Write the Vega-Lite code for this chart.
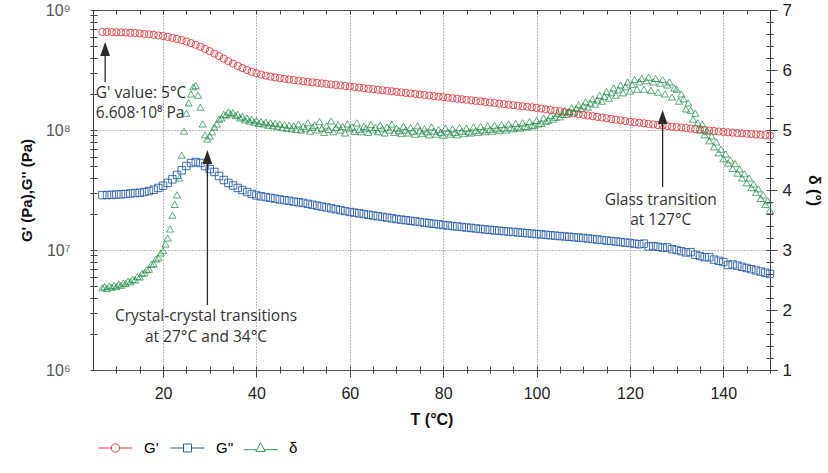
{
"$schema": "https://vega.github.io/schema/vega-lite/v6.json",
"width": 677, "height": 360,
"autosize": {"type": "none"},
"padding": {"left": 93, "top": 10, "right": 58, "bottom": 103},
"background": "white",
"config": {"view": {"stroke": "#444", "strokeWidth": 1}, "font": "Liberation Sans", "axis": {"domainColor": "#444", "tickColor": "#444", "labelFont": "Liberation Sans", "titleFont": "Liberation Sans"}},
"datasets": {
"g": [
{"T":7,"a":6.56e8,"b":2.87e7},{"T":8,"a":6.56e8,"b":2.87e7},{"T":9,"a":6.546e8,"b":2.88e7},{"T":10,"a":6.531e8,"b":2.90e7},{"T":11,"a":6.516e8,"b":2.91e7},{"T":12,"a":6.486e8,"b":2.93e7},{"T":13,"a":6.457e8,"b":2.96e7},{"T":14,"a":6.427e8,"b":2.98e7},{"T":15,"a":6.383e8,"b":3.0e7},{"T":16,"a":6.31e8,"b":3.04e7},{"T":17,"a":6.266e8,"b":3.10e7},{"T":18,"a":6.209e8,"b":3.18e7},{"T":19,"a":6.138e8,"b":3.29e7},{"T":20,"a":6.067e8,"b":3.43e7},
{"T":21,"a":5.97e8,"b":3.62e7},{"T":22,"a":5.861e8,"b":3.88e7},{"T":23,"a":5.741e8,"b":4.22e7},{"T":24,"a":5.61e8,"b":4.62e7},{"T":25,"a":5.458e8,"b":5.01e7},{"T":26,"a":5.297e8,"b":5.31e7},{"T":27,"a":5.129e8,"b":5.41e7},{"T":28,"a":4.943e8,"b":5.31e7},{"T":29,"a":4.742e8,"b":5.01e7},{"T":30,"a":4.539e8,"b":4.73e7},
{"T":31,"a":4.335e8,"b":4.47e7},{"T":32,"a":4.13e8,"b":4.14e7},{"T":33,"a":3.936e8,"b":3.83e7},{"T":34,"a":3.75e8,"b":3.62e7},{"T":35,"a":3.573e8,"b":3.45e7},{"T":36,"a":3.42e8,"b":3.29e7},{"T":37,"a":3.281e8,"b":3.16e7},{"T":38,"a":3.162e8,"b":3.04e7},{"T":39,"a":3.062e8,"b":2.93e7},{"T":40,"a":2.972e8,"b":2.85e7},
{"T":41,"a":2.897e8,"b":2.80e7},{"T":42,"a":2.838e8,"b":2.76e7},{"T":43,"a":2.786e8,"b":2.72e7},{"T":44,"a":2.742e8,"b":2.68e7},{"T":45,"a":2.704e8,"b":2.64e7},{"T":46,"a":2.667e8,"b":2.60e7},{"T":47,"a":2.636e8,"b":2.57e7},{"T":48,"a":2.606e8,"b":2.53e7},{"T":49,"a":2.576e8,"b":2.50e7},{"T":50,"a":2.547e8,"b":2.47e7},
{"T":51,"a":2.521e8,"b":2.424e7},{"T":52,"a":2.496e8,"b":2.383e7},{"T":53,"a":2.471e8,"b":2.342e7},{"T":54,"a":2.446e8,"b":2.302e7},{"T":55,"a":2.421e8,"b":2.263e7},{"T":56,"a":2.397e8,"b":2.224e7},{"T":57,"a":2.373e8,"b":2.186e7},{"T":58,"a":2.349e8,"b":2.149e7},{"T":59,"a":2.325e8,"b":2.112e7},{"T":60,"a":2.302e8,"b":2.076e7},
{"T":61,"a":2.279e8,"b":2.048e7},{"T":62,"a":2.256e8,"b":2.020e7},{"T":63,"a":2.233e8,"b":1.993e7},{"T":64,"a":2.210e8,"b":1.966e7},{"T":65,"a":2.188e8,"b":1.939e7},{"T":66,"a":2.166e8,"b":1.913e7},{"T":67,"a":2.144e8,"b":1.887e7},{"T":68,"a":2.123e8,"b":1.862e7},{"T":69,"a":2.101e8,"b":1.837e7},{"T":70,"a":2.080e8,"b":1.812e7},
{"T":71,"a":2.059e8,"b":1.791e7},{"T":72,"a":2.038e8,"b":1.771e7},{"T":73,"a":2.018e8,"b":1.751e7},{"T":74,"a":1.998e8,"b":1.731e7},{"T":75,"a":1.977e8,"b":1.711e7},{"T":76,"a":1.957e8,"b":1.691e7},{"T":77,"a":1.938e8,"b":1.672e7},{"T":78,"a":1.918e8,"b":1.653e7},{"T":79,"a":1.899e8,"b":1.634e7},{"T":80,"a":1.880e8,"b":1.615e7},
{"T":81,"a":1.861e8,"b":1.600e7},{"T":82,"a":1.842e8,"b":1.585e7},{"T":83,"a":1.823e8,"b":1.570e7},{"T":84,"a":1.804e8,"b":1.555e7},{"T":85,"a":1.785e8,"b":1.540e7},{"T":86,"a":1.767e8,"b":1.526e7},{"T":87,"a":1.749e8,"b":1.512e7},{"T":88,"a":1.731e8,"b":1.497e7},{"T":89,"a":1.713e8,"b":1.483e7},{"T":90,"a":1.695e8,"b":1.469e7},
{"T":91,"a":1.678e8,"b":1.458e7},{"T":92,"a":1.660e8,"b":1.446e7},{"T":93,"a":1.643e8,"b":1.435e7},{"T":94,"a":1.626e8,"b":1.424e7},{"T":95,"a":1.609e8,"b":1.413e7},{"T":96,"a":1.593e8,"b":1.402e7},{"T":97,"a":1.576e8,"b":1.391e7},{"T":98,"a":1.560e8,"b":1.380e7},{"T":99,"a":1.544e8,"b":1.369e7},{"T":100,"a":1.528e8,"b":1.358e7},
{"T":101,"a":1.508e8,"b":1.348e7},{"T":102,"a":1.488e8,"b":1.338e7},{"T":103,"a":1.468e8,"b":1.327e7},{"T":104,"a":1.449e8,"b":1.317e7},{"T":105,"a":1.430e8,"b":1.307e7},{"T":106,"a":1.411e8,"b":1.297e7},{"T":107,"a":1.393e8,"b":1.288e7},{"T":108,"a":1.374e8,"b":1.278e7},{"T":109,"a":1.356e8,"b":1.268e7},{"T":110,"a":1.338e8,"b":1.259e7},
{"T":111,"a":1.321e8,"b":1.247e7},{"T":112,"a":1.303e8,"b":1.235e7},{"T":113,"a":1.286e8,"b":1.223e7},{"T":114,"a":1.269e8,"b":1.211e7},{"T":115,"a":1.252e8,"b":1.199e7},{"T":116,"a":1.236e8,"b":1.188e7},{"T":117,"a":1.220e8,"b":1.176e7},{"T":118,"a":1.204e8,"b":1.165e7},{"T":119,"a":1.188e8,"b":1.154e7},{"T":120,"a":1.172e8,"b":1.143e7},
{"T":121,"a":1.160e8,"b":1.130e7},{"T":122,"a":1.148e8,"b":1.117e7},{"T":123,"a":1.136e8,"b":1.13e7},{"T":124,"a":1.124e8,"b":1.07e7},{"T":125,"a":1.113e8,"b":1.079e7},{"T":126,"a":1.101e8,"b":1.063e7},{"T":127,"a":1.090e8,"b":1.047e7},{"T":128,"a":1.079e8,"b":1.05e7},{"T":129,"a":1.068e8,"b":1.015e7},{"T":130,"a":1.057e8,"b":1.0e7},
{"T":131,"a":1.047e8,"b":9.77e6},{"T":132,"a":1.037e8,"b":9.55e6},{"T":133,"a":1.028e8,"b":9.6e6},{"T":134,"a":1.018e8,"b":9.12e6},{"T":135,"a":1.009e8,"b":8.91e6},{"T":136,"a":9.998e7,"b":8.71e6},{"T":137,"a":9.906e7,"b":8.7e6},{"T":138,"a":9.815e7,"b":8.32e6},{"T":139,"a":9.725e7,"b":8.13e6},{"T":140,"a":9.636e7,"b":7.94e6},
{"T":141,"a":9.570e7,"b":7.5e6},{"T":142,"a":9.504e7,"b":7.58e6},{"T":143,"a":9.439e7,"b":7.41e6},{"T":144,"a":9.374e7,"b":7.24e6},{"T":145,"a":9.309e7,"b":7.08e6},{"T":146,"a":9.245e7,"b":6.92e6},{"T":147,"a":9.182e7,"b":6.76e6},{"T":148,"a":9.119e7,"b":6.61e6},{"T":149,"a":9.056e7,"b":6.46e6},{"T":150,"a":8.994e7,"b":6.31e6}
],
"d": [
{"T":7,"d":2.37},{"T":7.5,"d":2.39},{"T":8,"d":2.36},{"T":8.5,"d":2.40},{"T":9,"d":2.38},{"T":9.5,"d":2.41},{"T":10,"d":2.39},{"T":10.5,"d":2.43},{"T":11,"d":2.41},{"T":11.5,"d":2.45},{"T":12,"d":2.44},{"T":12.5,"d":2.48},{"T":13,"d":2.47},{"T":13.5,"d":2.51},{"T":14,"d":2.50},{"T":14.5,"d":2.56},{"T":15,"d":2.55},{"T":15.5,"d":2.61},{"T":16,"d":2.62},{"T":16.5,"d":2.67},{"T":17,"d":2.68},{"T":17.5,"d":2.76},{"T":18,"d":2.77},{"T":18.5,"d":2.85},{"T":19,"d":2.87},{"T":19.5,"d":2.95},{"T":20,"d":2.99},{"T":20.5,"d":3.1},
{"T":21,"d":3.2},{"T":21.5,"d":3.35},{"T":22,"d":3.58},{"T":22.5,"d":3.76},{"T":23,"d":3.92},{"T":23.5,"d":4.2},{"T":24,"d":4.58},{"T":24.5,"d":4.98},{"T":25,"d":5.28},{"T":25.5,"d":5.45},{"T":26,"d":5.6},{"T":26.5,"d":5.72},{"T":27,"d":5.74},{"T":27.5,"d":5.58},{"T":28,"d":5.38},{"T":28.5,"d":5.1},{"T":29,"d":4.92},{"T":29.5,"d":4.85},{"T":30,"d":4.9},{"T":30.5,"d":4.97},
{"T":31,"d":5.05},{"T":31.5,"d":5.1},{"T":32,"d":5.18},{"T":32.5,"d":5.2},{"T":33,"d":5.26},{"T":33.5,"d":5.25},{"T":34,"d":5.3},{"T":34.5,"d":5.27},{"T":35,"d":5.29},{"T":35.5,"d":5.24},{"T":36,"d":5.26},{"T":36.5,"d":5.2},{"T":37,"d":5.22},{"T":37.5,"d":5.17},{"T":38,"d":5.2},{"T":38.5,"d":5.15},{"T":39,"d":5.18},{"T":39.5,"d":5.13},{"T":40,"d":5.16},{"T":40.5,"d":5.11},
{"T":41,"d":5.14},{"T":41.5,"d":5.1},{"T":42,"d":5.13},{"T":42.5,"d":5.08},{"T":43,"d":5.12},{"T":43.5,"d":5.07},{"T":44,"d":5.11},{"T":44.5,"d":5.06},{"T":45,"d":5.1},{"T":45.5,"d":5.04},{"T":46,"d":5.09},{"T":46.5,"d":5.03},{"T":47,"d":5.08},{"T":47.5,"d":5.02},{"T":48,"d":5.07},{"T":48.5,"d":5.01},{"T":49,"d":5.1},{"T":49.5,"d":5.0},{"T":50,"d":5.06},{"T":50.5,"d":5.02},
{"T":51,"d":5.12},{"T":51.5,"d":4.98},{"T":52,"d":5.05},{"T":52.5,"d":5.08},{"T":53,"d":5.0},{"T":53.5,"d":5.14},{"T":54,"d":5.03},{"T":54.5,"d":4.96},{"T":55,"d":5.07},{"T":55.5,"d":5.01},{"T":56,"d":5.15},{"T":56.5,"d":4.97},{"T":57,"d":5.04},{"T":57.5,"d":5.09},{"T":58,"d":5.0},{"T":58.5,"d":5.06},{"T":59,"d":4.95},{"T":59.5,"d":5.1},{"T":60,"d":5.02},{"T":60.5,"d":5.05},
{"T":61,"d":4.98},{"T":61.5,"d":5.12},{"T":62,"d":5.01},{"T":62.5,"d":4.97},{"T":63,"d":5.06},{"T":63.5,"d":5.03},{"T":64,"d":4.96},{"T":64.5,"d":5.09},{"T":65,"d":5.0},{"T":65.5,"d":5.04},{"T":66,"d":4.97},{"T":66.5,"d":5.08},{"T":67,"d":5.02},{"T":67.5,"d":4.95},{"T":68,"d":5.05},{"T":68.5,"d":5.0},{"T":69,"d":5.1},{"T":69.5,"d":4.96},{"T":70,"d":5.03},{"T":70.5,"d":4.99},
{"T":71,"d":4.94},{"T":71.5,"d":5.06},{"T":72,"d":5.0},{"T":72.5,"d":4.95},{"T":73,"d":5.04},{"T":73.5,"d":4.98},{"T":74,"d":4.93},{"T":74.5,"d":5.07},{"T":75,"d":4.99},{"T":75.5,"d":4.94},{"T":76,"d":5.02},{"T":76.5,"d":4.97},{"T":77,"d":4.92},{"T":77.5,"d":5.05},{"T":78,"d":4.98},{"T":78.5,"d":4.93},{"T":79,"d":5.01},{"T":79.5,"d":4.96},{"T":80,"d":4.91},{"T":80.5,"d":5.03},
{"T":81,"d":4.97},{"T":81.5,"d":4.93},{"T":82,"d":5.02},{"T":82.5,"d":4.96},{"T":83,"d":4.92},{"T":83.5,"d":5.04},{"T":84,"d":4.98},{"T":84.5,"d":4.94},{"T":85,"d":5.03},{"T":85.5,"d":4.97},{"T":86,"d":4.95},{"T":86.5,"d":5.05},{"T":87,"d":4.99},{"T":87.5,"d":4.96},{"T":88,"d":5.06},{"T":88.5,"d":5.0},{"T":89,"d":4.97},{"T":89.5,"d":5.07},{"T":90,"d":5.01},{"T":90.5,"d":4.98},
{"T":91,"d":5.08},{"T":91.5,"d":5.02},{"T":92,"d":4.99},{"T":92.5,"d":5.09},{"T":93,"d":5.03},{"T":93.5,"d":5.0},{"T":94,"d":5.1},{"T":94.5,"d":5.04},{"T":95,"d":5.02},{"T":95.5,"d":5.11},{"T":96,"d":5.05},{"T":96.5,"d":5.03},{"T":97,"d":5.12},{"T":97.5,"d":5.06},{"T":98,"d":5.05},{"T":98.5,"d":5.14},{"T":99,"d":5.08},{"T":99.5,"d":5.07},{"T":100,"d":5.16},{"T":100.5,"d":5.1},
{"T":101,"d":5.11},{"T":101.5,"d":5.2},{"T":102,"d":5.14},{"T":102.5,"d":5.16},{"T":103,"d":5.24},{"T":103.5,"d":5.18},{"T":104,"d":5.21},{"T":104.5,"d":5.28},{"T":105,"d":5.22},{"T":105.5,"d":5.26},{"T":106,"d":5.32},{"T":106.5,"d":5.26},{"T":107,"d":5.31},{"T":107.5,"d":5.37},{"T":108,"d":5.3},{"T":108.5,"d":5.36},{"T":109,"d":5.42},{"T":109.5,"d":5.35},{"T":110,"d":5.4},{"T":110.5,"d":5.47},
{"T":111,"d":5.38},{"T":111.5,"d":5.45},{"T":112,"d":5.52},{"T":112.5,"d":5.43},{"T":113,"d":5.5},{"T":113.5,"d":5.58},{"T":114,"d":5.48},{"T":114.5,"d":5.56},{"T":115,"d":5.64},{"T":115.5,"d":5.53},{"T":116,"d":5.62},{"T":116.5,"d":5.7},{"T":117,"d":5.58},{"T":117.5,"d":5.67},{"T":118,"d":5.75},{"T":118.5,"d":5.62},{"T":119,"d":5.72},{"T":119.5,"d":5.8},{"T":120,"d":5.65},{"T":120.5,"d":5.76},
{"T":121,"d":5.84},{"T":121.5,"d":5.68},{"T":122,"d":5.8},{"T":122.5,"d":5.86},{"T":123,"d":5.68},{"T":123.5,"d":5.82},{"T":124,"d":5.88},{"T":124.5,"d":5.66},{"T":125,"d":5.8},{"T":125.5,"d":5.86},{"T":126,"d":5.63},{"T":126.5,"d":5.78},{"T":127,"d":5.84},{"T":127.5,"d":5.6},{"T":128,"d":5.75},{"T":128.5,"d":5.8},{"T":129,"d":5.55},{"T":129.5,"d":5.7},{"T":130,"d":5.68},{"T":130.5,"d":5.48},
{"T":131,"d":5.6},{"T":131.5,"d":5.52},{"T":132,"d":5.35},{"T":132.5,"d":5.45},{"T":133,"d":5.33},{"T":133.5,"d":5.18},{"T":134,"d":5.28},{"T":134.5,"d":5.12},{"T":135,"d":5.0},{"T":135.5,"d":5.1},{"T":136,"d":4.92},{"T":136.5,"d":4.98},{"T":137,"d":4.82},{"T":137.5,"d":4.9},{"T":138,"d":4.72},{"T":138.5,"d":4.8},{"T":139,"d":4.62},{"T":139.5,"d":4.68},{"T":140,"d":4.52},{"T":140.5,"d":4.6},
{"T":141,"d":4.45},{"T":141.5,"d":4.5},{"T":142,"d":4.36},{"T":142.5,"d":4.44},{"T":143,"d":4.28},{"T":143.5,"d":4.35},{"T":144,"d":4.2},{"T":144.5,"d":4.27},{"T":145,"d":4.12},{"T":145.5,"d":4.2},{"T":146,"d":4.04},{"T":146.5,"d":4.1},{"T":147,"d":3.96},{"T":147.5,"d":4.02},{"T":148,"d":3.86},{"T":148.5,"d":3.92},{"T":149,"d":3.76},{"T":149.5,"d":3.82},{"T":150,"d":3.66}
],
"arrows": [
{"T":7.6,"top":4.22e8,"bot":2.51e8,"head":4.73e8},
{"T":29.5,"top":5.31e7,"bot":3.48e6,"head":5.96e7},
{"T":127,"top":1.143e8,"bot":3.35e7,"head":1.283e8}
],
"notesL": [
{"T":5.6,"y":2.03e8,"text":"G' value: 5°C"},
{"T":5.6,"y":1.386e8,"text":"6.608·10⁸ Pa"}
],
"notesC": [
{"T":29.2,"y":2.818e6,"text":"Crystal-crystal transitions"},
{"T":29.2,"y":1.9e6,"text":"at 27°C and 34°C"},
{"T":126.6,"y":2.61e7,"text":"Glass transition"},
{"T":126.6,"y":1.778e7,"text":"at 127°C"}
]
},
"layer": [
{
"encoding": {
"x": {"field": "T", "type": "quantitative", "scale": {"domain": [5, 150], "nice": false, "zero": false},
"axis": {"values": [10,15,20,25,30,35,40,45,50,55,60,65,70,75,80,85,90,95,100,105,110,115,120,125,130,135,140,145,150],
"labelExpr": "datum.value % 20 == 0 && datum.value < 150 ? datum.label : ''",
"labelFontSize": 16, "labelColor": "#222", "labelPadding": 8, "labelFlush": false, "labelOverlap": false,
"offset": -4, "domain": false,
"tickSize": {"condition": {"test": "datum.value % 20 == 0", "value": 11}, "value": 7},
"grid": true, "gridDash": [1, 2], "gridColor": "#777",
"gridOpacity": {"condition": {"test": "datum.value % 20 == 0 && datum.value < 150", "value": 1}, "value": 0},
"title": "T (°C)", "titleFontSize": 16, "titleFontWeight": "bold", "titleColor": "#111", "titlePadding": 10}}
},
"layer": [
{
"data": {"name": "g"},
"mark": {"type": "point", "shape": "square", "filled": false, "size": 55, "strokeWidth": 0.9, "opacity": 1},
"encoding": {
"y": {"field": "b", "type": "quantitative", "scale": {"type": "log", "domain": [1e6, 1e9], "nice": false},
"axis": {"values": [1e6,2e6,3e6,4e6,5e6,6e6,7e6,8e6,9e6,1e7,2e7,3e7,4e7,5e7,6e7,7e7,8e7,9e7,1e8,2e8,3e8,4e8,5e8,6e8,7e8,8e8,9e8,1e9],
"labelExpr": "abs(log(datum.value)/LN10 - round(log(datum.value)/LN10)) < 0.01 ? '10' + ['⁶','⁷','⁸','⁹'][round(log(datum.value)/LN10) - 6] : ''",
"labelFontSize": 16, "labelColor": "#555", "labelPadding": 20, "labelOverlap": false, "labelAlign": "right",
"offset": -4, "domain": false, "tickSize": 7,
"grid": true, "gridDash": [1, 2], "gridColor": "#777",
"gridOpacity": {"condition": {"test": "abs(log(datum.value)/LN10 - round(log(datum.value)/LN10)) < 0.01", "value": 1}, "value": 0},
"title": "G' (Pa),G'' (Pa)", "titleFontSize": 15, "titleFontWeight": "bold", "titleColor": "#111", "titlePadding": 11}},
"stroke": {"datum": "G''", "type": "nominal", "scale": {"domain": ["G''"], "range": ["#2d5dac"]},
"legend": {"orient": "none", "legendX": 72, "legendY": 429, "direction": "horizontal", "title": null,
"padding": 0, "symbolSize": 289, "symbolStrokeWidth": 1, "symbolOffset": 13.5,
"symbolType": "M-2,0H-0.47M0.47,0H2M-0.47,-0.47H0.47V0.47H-0.47Z",
"labelFont": "Liberation Sans", "labelFontSize": 15, "labelColor": "#000", "labelOffset": 19.5}}
}
},
{
"data": {"name": "g"},
"mark": {"type": "point", "shape": "circle", "filled": false, "size": 52, "strokeWidth": 0.9, "opacity": 1},
"encoding": {
"y": {"field": "a", "type": "quantitative", "axis": {"title": "G' (Pa),G'' (Pa)"}},
"color": {"datum": "G'", "type": "nominal", "scale": {"domain": ["G'"], "range": ["#e5393f"]},
"legend": {"orient": "none", "legendX": 0, "legendY": 429, "direction": "horizontal", "title": null,
"padding": 0, "symbolSize": 289, "symbolStrokeWidth": 1, "symbolOffset": 13.5,
"symbolType": "M-2,0H-0.5M0.5,0H2M0.5,0A0.5,0.5,0,1,1,-0.5,0A0.5,0.5,0,1,1,0.5,0",
"labelFont": "Liberation Sans", "labelFontSize": 15, "labelColor": "#000", "labelOffset": 19.5}}
}
},
{
"data": {"name": "arrows"},
"mark": {"type": "rule", "color": "#2a2a2a", "strokeWidth": 1.3},
"encoding": {
"y": {"field": "top", "type": "quantitative", "axis": {"title": "G' (Pa),G'' (Pa)"}},
"y2": {"field": "bot"}
}
},
{
"data": {"name": "arrows"},
"mark": {"type": "point", "shape": "M0,-1L0.7,1L-0.7,1Z", "filled": true, "size": 196, "color": "#2a2a2a", "opacity": 1},
"encoding": {
"y": {"field": "head", "type": "quantitative", "axis": {"title": "G' (Pa),G'' (Pa)"}}
}
},
{
"data": {"name": "notesL"},
"mark": {"type": "text", "align": "left", "baseline": "middle", "font": "Open Sans", "fontSize": 15.5, "color": "#333"},
"encoding": {
"y": {"field": "y", "type": "quantitative", "axis": {"title": "G' (Pa),G'' (Pa)"}},
"text": {"field": "text"}
}
},
{
"data": {"name": "notesC"},
"mark": {"type": "text", "align": "center", "baseline": "middle", "font": "Open Sans", "fontSize": 15.5, "color": "#333"},
"encoding": {
"y": {"field": "y", "type": "quantitative", "axis": {"title": "G' (Pa),G'' (Pa)"}},
"text": {"field": "text"}
}
}
]
},
{
"data": {"name": "d"},
"mark": {"type": "point", "shape": "triangle-up", "filled": false, "size": 50, "strokeWidth": 0.8, "opacity": 1, "color": "#1e8c47"},
"encoding": {
"x": {"field": "T", "type": "quantitative", "scale": {"domain": [5, 150], "nice": false, "zero": false},
"axis": {"orient": "top", "values": [10,15,20,25,30,35,40,45,50,55,60,65,70,75,80,85,90,95,100,105,110,115,120,125,130,135,140,145,150],
"labels": false, "domain": false, "grid": false, "title": null, "offset": -4, "tickSize": 4}},
"y": {"field": "d", "type": "quantitative", "scale": {"domain": [1, 7], "nice": false, "zero": false},
"axis": {"orient": "right", "values": [1,1.2,1.4,1.6,1.8,2,2.2,2.4,2.6,2.8,3,3.2,3.4,3.6,3.8,4,4.2,4.4,4.6,4.8,5,5.2,5.4,5.6,5.8,6,6.2,6.4,6.6,6.8,7],
"labelExpr": "abs(datum.value - round(datum.value)) < 0.01 ? format(datum.value, 'd') : ''",
"labelFontSize": 17, "labelColor": "#222", "labelPadding": 5, "labelOverlap": false,
"offset": -4, "domain": false,
"tickSize": {"condition": {"test": "abs(datum.value - round(datum.value)) < 0.01", "value": 11}, "value": 7},
"grid": false,
"title": "δ (°)", "titleFontSize": 16, "titleFontWeight": "bold", "titleColor": "#111", "titlePadding": 14}},
"strokeDash": {"datum": "δ", "type": "nominal", "scale": {"domain": ["δ"], "range": [[1, 0]]},
"legend": {"orient": "none", "legendX": 145, "legendY": 429, "direction": "horizontal", "title": null,
"padding": 0, "symbolSize": 289, "symbolStrokeWidth": 1, "symbolOffset": 13.5, "symbolStrokeColor": "#1e8c47", "symbolFillColor": "transparent",
"symbolType": "M-2,0.2H-0.42M0.42,0.2H2M0,-0.6L0.55,0.4H-0.55Z",
"labelFont": "Liberation Sans", "labelFontSize": 15, "labelColor": "#000", "labelOffset": 19.5}}
}
}
],
"resolve": {"scale": {"x": "independent", "y": "independent"}}
}
